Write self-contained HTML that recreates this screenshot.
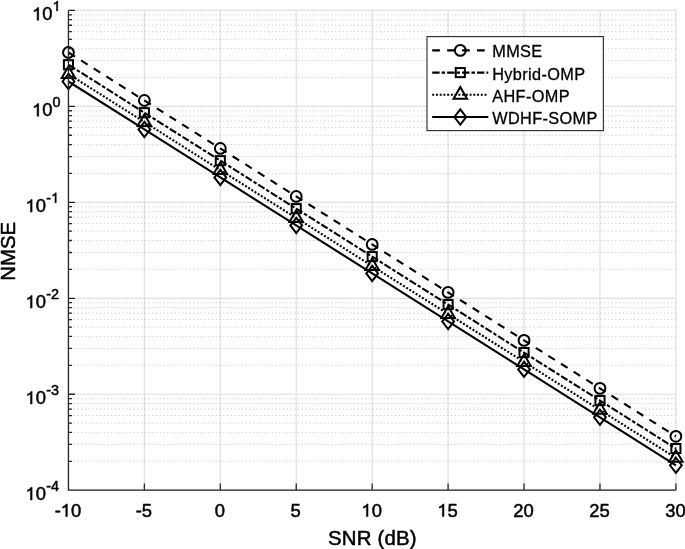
<!DOCTYPE html><html><head><meta charset="utf-8"><style>html,body{margin:0;padding:0;background:#fff;}svg{display:block;will-change:transform;}text{font-family:"Liberation Sans",sans-serif;fill:#000;stroke:#000;stroke-width:0.5px;stroke-linejoin:round;}.one{fill:none;stroke:none;}</style></head><body>
<svg width="685" height="549" viewBox="0 0 685 549">
<rect width="685" height="549" fill="#fff"/>
<path d="M68.45 10.40V490.20M144.38 10.40V490.20M220.31 10.40V490.20M296.24 10.40V490.20M372.17 10.40V490.20M448.11 10.40V490.20M524.04 10.40V490.20M599.97 10.40V490.20M675.90 10.40V490.20M68.45 10.40H675.90M68.45 106.36H675.90M68.45 202.32H675.90M68.45 298.28H675.90M68.45 394.24H675.90M68.45 490.20H675.90" stroke="#262626" stroke-opacity="0.15" stroke-width="1.2" fill="none"/>
<path d="M68.45 77.47H675.90M68.45 60.58H675.90M68.45 48.59H675.90M68.45 39.29H675.90M68.45 31.69H675.90M68.45 25.26H675.90M68.45 19.70H675.90M68.45 14.79H675.90M68.45 173.43H675.90M68.45 156.54H675.90M68.45 144.55H675.90M68.45 135.25H675.90M68.45 127.65H675.90M68.45 121.22H675.90M68.45 115.66H675.90M68.45 110.75H675.90M68.45 269.39H675.90M68.45 252.50H675.90M68.45 240.51H675.90M68.45 231.21H675.90M68.45 223.61H675.90M68.45 217.18H675.90M68.45 211.62H675.90M68.45 206.71H675.90M68.45 365.35H675.90M68.45 348.46H675.90M68.45 336.47H675.90M68.45 327.17H675.90M68.45 319.57H675.90M68.45 313.14H675.90M68.45 307.58H675.90M68.45 302.67H675.90M68.45 461.31H675.90M68.45 444.42H675.90M68.45 432.43H675.90M68.45 423.13H675.90M68.45 415.53H675.90M68.45 409.10H675.90M68.45 403.54H675.90M68.45 398.63H675.90" stroke="#262626" stroke-opacity="0.25" stroke-width="1" stroke-dasharray="1.1 2.634" stroke-dashoffset="-1.67" fill="none"/>
<path d="M68.45 52.50 L144.38 100.48 L220.31 148.46 L296.24 196.44 L372.17 244.42 L448.11 292.40 L524.04 340.38 L599.97 388.36 L675.90 436.34" stroke="#000" stroke-width="2.1" fill="none" stroke-dasharray="7.7 7.24"/>
<g stroke="#000" stroke-width="2.0" fill="none" stroke-linejoin="miter"><circle cx="68.45" cy="52.50" r="5.4"/><circle cx="144.38" cy="100.48" r="5.4"/><circle cx="220.31" cy="148.46" r="5.4"/><circle cx="296.24" cy="196.44" r="5.4"/><circle cx="372.17" cy="244.42" r="5.4"/><circle cx="448.11" cy="292.40" r="5.4"/><circle cx="524.04" cy="340.38" r="5.4"/><circle cx="599.97" cy="388.36" r="5.4"/><circle cx="675.90" cy="436.34" r="5.4"/></g>
<path d="M68.45 64.70 L144.38 112.68 L220.31 160.66 L296.24 208.64 L372.17 256.62 L448.11 304.60 L524.04 352.58 L599.97 400.56 L675.90 448.54" stroke="#000" stroke-width="2.1" fill="none" stroke-dasharray="7.4 2.0 3.5 2.03" stroke-dashoffset="-0.56"/>
<g stroke="#000" stroke-width="2.0" fill="none" stroke-linejoin="miter"><rect x="63.90" y="60.15" width="9.10" height="9.10"/><rect x="139.83" y="108.13" width="9.10" height="9.10"/><rect x="215.76" y="156.11" width="9.10" height="9.10"/><rect x="291.69" y="204.09" width="9.10" height="9.10"/><rect x="367.62" y="252.07" width="9.10" height="9.10"/><rect x="443.56" y="300.05" width="9.10" height="9.10"/><rect x="519.49" y="348.03" width="9.10" height="9.10"/><rect x="595.42" y="396.01" width="9.10" height="9.10"/><rect x="671.35" y="443.99" width="9.10" height="9.10"/></g>
<path d="M68.45 74.10 L144.38 122.08 L220.31 170.06 L296.24 218.04 L372.17 266.02 L448.11 314.00 L524.04 361.98 L599.97 409.96 L675.90 457.94" stroke="#000" stroke-width="2.1" fill="none" stroke-dasharray="2.0 1.737" stroke-dashoffset="0.3"/>
<g stroke="#000" stroke-width="2.0" fill="none" stroke-linejoin="miter"><path d="M68.45 66.30L75.20 78.00L61.70 78.00Z"/><path d="M144.38 114.28L151.14 125.98L137.63 125.98Z"/><path d="M220.31 162.26L227.07 173.96L213.56 173.96Z"/><path d="M296.24 210.24L303.00 221.94L289.49 221.94Z"/><path d="M372.17 258.22L378.93 269.92L365.42 269.92Z"/><path d="M448.11 306.20L454.86 317.90L441.35 317.90Z"/><path d="M524.04 354.18L530.79 365.88L517.28 365.88Z"/><path d="M599.97 402.16L606.72 413.86L593.21 413.86Z"/><path d="M675.90 450.14L682.65 461.84L669.15 461.84Z"/></g>
<path d="M68.45 81.50 L144.38 129.48 L220.31 177.46 L296.24 225.44 L372.17 273.42 L448.11 321.40 L524.04 369.38 L599.97 417.36 L675.90 465.34" stroke="#000" stroke-width="2.1" fill="none"/>
<g stroke="#000" stroke-width="2.0" fill="none" stroke-linejoin="miter"><path d="M68.45 73.90L74.35 81.50L68.45 89.10L62.55 81.50Z"/><path d="M144.38 121.88L150.28 129.48L144.38 137.08L138.48 129.48Z"/><path d="M220.31 169.86L226.21 177.46L220.31 185.06L214.41 177.46Z"/><path d="M296.24 217.84L302.14 225.44L296.24 233.04L290.34 225.44Z"/><path d="M372.17 265.82L378.07 273.42L372.17 281.02L366.27 273.42Z"/><path d="M448.11 313.80L454.01 321.40L448.11 329.00L442.21 321.40Z"/><path d="M524.04 361.78L529.94 369.38L524.04 376.98L518.14 369.38Z"/><path d="M599.97 409.76L605.87 417.36L599.97 424.96L594.07 417.36Z"/><path d="M675.90 457.74L681.80 465.34L675.90 472.94L670.00 465.34Z"/></g>
<path d="M68.45 10.40V490.20H675.90M68.45 490.20v-6.6M144.38 490.20v-6.6M220.31 490.20v-6.6M296.24 490.20v-6.6M372.17 490.20v-6.6M448.11 490.20v-6.6M524.04 490.20v-6.6M599.97 490.20v-6.6M675.90 490.20v-6.6M68.45 10.40h6.5M68.45 77.47h3.5M68.45 60.58h3.5M68.45 48.59h3.5M68.45 39.29h3.5M68.45 31.69h3.5M68.45 25.26h3.5M68.45 19.70h3.5M68.45 14.79h3.5M68.45 106.36h6.5M68.45 173.43h3.5M68.45 156.54h3.5M68.45 144.55h3.5M68.45 135.25h3.5M68.45 127.65h3.5M68.45 121.22h3.5M68.45 115.66h3.5M68.45 110.75h3.5M68.45 202.32h6.5M68.45 269.39h3.5M68.45 252.50h3.5M68.45 240.51h3.5M68.45 231.21h3.5M68.45 223.61h3.5M68.45 217.18h3.5M68.45 211.62h3.5M68.45 206.71h3.5M68.45 298.28h6.5M68.45 365.35h3.5M68.45 348.46h3.5M68.45 336.47h3.5M68.45 327.17h3.5M68.45 319.57h3.5M68.45 313.14h3.5M68.45 307.58h3.5M68.45 302.67h3.5M68.45 394.24h6.5M68.45 461.31h3.5M68.45 444.42h3.5M68.45 432.43h3.5M68.45 423.13h3.5M68.45 415.53h3.5M68.45 409.10h3.5M68.45 403.54h3.5M68.45 398.63h3.5M68.45 490.20h6.5" stroke="#262626" stroke-width="1.3" fill="none"/>
<text x="67.95" y="516.6" font-size="18.4" text-anchor="middle">-<tspan class="one">1</tspan>0</text>
<text x="143.88" y="516.6" font-size="18.4" text-anchor="middle">-5</text>
<text x="219.81" y="516.6" font-size="18.4" text-anchor="middle">0</text>
<text x="295.74" y="516.6" font-size="18.4" text-anchor="middle">5</text>
<text x="371.67" y="516.6" font-size="18.4" text-anchor="middle"><tspan class="one">1</tspan>0</text>
<text x="447.61" y="516.6" font-size="18.4" text-anchor="middle"><tspan class="one">1</tspan>5</text>
<text x="523.54" y="516.6" font-size="18.4" text-anchor="middle">20</text>
<text x="599.47" y="516.6" font-size="18.4" text-anchor="middle">25</text>
<text x="675.40" y="516.6" font-size="18.4" text-anchor="middle">30</text>
<text x="60.60" y="20.20" font-size="18.4" text-anchor="end"><tspan class="one">1</tspan>0<tspan font-size="14.4" dx="0" dy="-9.3"><tspan class="one">1</tspan></tspan></text>
<text x="60.60" y="116.16" font-size="18.4" text-anchor="end"><tspan class="one">1</tspan>0<tspan font-size="14.4" dx="0" dy="-9.3">0</tspan></text>
<text x="59.10" y="212.12" font-size="18.4" text-anchor="end"><tspan class="one">1</tspan>0<tspan font-size="14.4" dx="0.3" dy="-8.70">-</tspan><tspan font-size="14.4" dy="-0.7"><tspan class="one">1</tspan></tspan></text>
<text x="59.10" y="308.08" font-size="18.4" text-anchor="end"><tspan class="one">1</tspan>0<tspan font-size="14.4" dx="0.3" dy="-8.70">-</tspan><tspan font-size="14.4" dy="-0.7">2</tspan></text>
<text x="59.10" y="404.04" font-size="18.4" text-anchor="end"><tspan class="one">1</tspan>0<tspan font-size="14.4" dx="0.3" dy="-8.70">-</tspan><tspan font-size="14.4" dy="-0.7">3</tspan></text>
<text x="59.10" y="500.00" font-size="18.4" text-anchor="end"><tspan class="one">1</tspan>0<tspan font-size="14.4" dx="0.3" dy="-8.70">-</tspan><tspan font-size="14.4" dy="-0.7">4</tspan></text>
<text x="372.4" y="544.8" font-size="20.4" text-anchor="middle" letter-spacing="0.18">SNR (dB)</text>
<text transform="translate(15.4 251.3) rotate(-90)" font-size="20.4" text-anchor="middle">NMSE</text>
<rect x="427.0" y="36.6" width="176.35" height="94.0" fill="#fff" stroke="#262626" stroke-width="1.1"/>
<path d="M432.2 50.40H488.3" stroke="#000" stroke-width="2.1" fill="none" stroke-dasharray="7.7 7.24"/>
<g stroke="#000" stroke-width="2.0" fill="none"><circle cx="460.30" cy="50.40" r="5.4"/></g>
<text x="492.2" y="57.40" font-size="16.3" letter-spacing="0.38" style="stroke-width:0.3px">MMSE</text>
<path d="M432.2 72.60H488.3" stroke="#000" stroke-width="2.1" fill="none" stroke-dasharray="7.4 2.0 3.5 2.03"/>
<g stroke="#000" stroke-width="2.0" fill="none"><rect x="455.75" y="68.05" width="9.10" height="9.10"/></g>
<text x="492.2" y="79.60" font-size="16.3" letter-spacing="0.38" style="stroke-width:0.3px">Hybrid-OMP</text>
<path d="M432.2 94.80H488.3" stroke="#000" stroke-width="2.1" fill="none" stroke-dasharray="2.0 1.737"/>
<g stroke="#000" stroke-width="2.0" fill="none"><path d="M460.30 87.00L467.05 98.70L453.55 98.70Z"/></g>
<text x="492.2" y="101.80" font-size="16.3" letter-spacing="0.38" style="stroke-width:0.3px">AHF-OMP</text>
<path d="M432.2 117.00H488.3" stroke="#000" stroke-width="2.1" fill="none"/>
<g stroke="#000" stroke-width="2.0" fill="none"><path d="M460.30 109.40L466.20 117.00L460.30 124.60L454.40 117.00Z"/></g>
<text x="492.2" y="124.00" font-size="16.3" letter-spacing="0.38" style="stroke-width:0.3px">WDHF-SOMP</text>
<defs><path id="g1" d="M0.358 0L0.27 0L0.27 0.54C0.22 0.5 0.15 0.475 0.105 0.46L0.105 0.545C0.2 0.575 0.27 0.625 0.3 0.688L0.358 0.688Z"/></defs>
<use href="#g1" fill="#000" stroke="#000" stroke-width="0.0272" stroke-linejoin="round" transform="translate(60.78 516.60) scale(18.4 -18.4)"/>
<use href="#g1" fill="#000" stroke="#000" stroke-width="0.0272" stroke-linejoin="round" transform="translate(361.44 516.60) scale(18.4 -18.4)"/>
<use href="#g1" fill="#000" stroke="#000" stroke-width="0.0272" stroke-linejoin="round" transform="translate(437.38 516.60) scale(18.4 -18.4)"/>
<use href="#g1" fill="#000" stroke="#000" stroke-width="0.0272" stroke-linejoin="round" transform="translate(32.12 20.20) scale(18.4 -18.4)"/>
<use href="#g1" fill="#000" stroke="#000" stroke-width="0.0347" stroke-linejoin="round" transform="translate(52.58 10.90) scale(14.4 -14.4)"/>
<use href="#g1" fill="#000" stroke="#000" stroke-width="0.0272" stroke-linejoin="round" transform="translate(32.12 116.16) scale(18.4 -18.4)"/>
<use href="#g1" fill="#000" stroke="#000" stroke-width="0.0272" stroke-linejoin="round" transform="translate(25.52 212.12) scale(18.4 -18.4)"/>
<use href="#g1" fill="#000" stroke="#000" stroke-width="0.0347" stroke-linejoin="round" transform="translate(51.08 202.72) scale(14.4 -14.4)"/>
<use href="#g1" fill="#000" stroke="#000" stroke-width="0.0272" stroke-linejoin="round" transform="translate(25.52 308.08) scale(18.4 -18.4)"/>
<use href="#g1" fill="#000" stroke="#000" stroke-width="0.0272" stroke-linejoin="round" transform="translate(25.52 404.04) scale(18.4 -18.4)"/>
<use href="#g1" fill="#000" stroke="#000" stroke-width="0.0272" stroke-linejoin="round" transform="translate(25.52 500.00) scale(18.4 -18.4)"/>
</svg></body></html>
